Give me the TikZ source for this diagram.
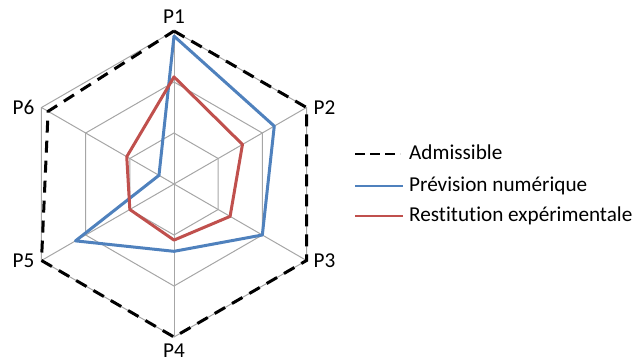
\documentclass[tikz,border=0pt]{standalone}
\usepackage{fontspec}
\setmainfont{Carlito}[Ligatures=NoCommon]
\usetikzlibrary{arrows.meta}

\definecolor{prevblue}{HTML}{4F81BD}
\definecolor{restred}{HTML}{C0504D}
\definecolor{gridgray}{HTML}{A6A6A6}

\begin{document}
\begin{tikzpicture}[x=1pt, y=1pt, every node/.style={font=\fontsize{21.2}{25}\selectfont, inner sep=7pt},
	gridline/.style={gridgray, line width=1pt},
	admis/.style={black, line width=3pt, dash pattern=on 12pt off 8pt},
	prev/.style={prevblue, line width=3pt, line join=round},
	rest/.style={restred, line width=3pt, line join=round},
	legend/.style={inner sep=0pt}]
	\useasboundingbox (0,0) rectangle (638,362);
	% Centre of the chart, step between two rings
	\coordinate (O) at (174,178);
	\def\st{51}
	
	\begin{scope}[shift={(O)}]
	% --- GRID ---
	\foreach \r in {1,2,3}
		\draw[gridline] (90:{\r*\st}) -- (30:{\r*\st}) -- (-30:{\r*\st}) -- (-90:{\r*\st}) -- (-150:{\r*\st}) -- (-210:{\r*\st}) -- cycle;
	\foreach \a [count=\i] in {90,30,-30,-90,-150,-210} {
		\draw[gridline] (0,0) -- (\a:{3*\st});
		\coordinate (V\i) at (\a:{3*\st});
	}
	
	% Axis labels
	\node[above] (p1) at (V1) {P1};
	\node[right] (p2) at (V2) {P2};
	\node[right] (p3) at (V3) {P3};
	\node[below] (p4) at (V4) {P4};
	\node[left] (p5) at (V5) {P5};
	\node[left] (p6) at (V6) {P6};
	
	% --- SERIES ---
	% Admissible
	\foreach \v [count=\i] in {3,3,3,3,3,2.85}
		\coordinate (a\i) at ({150-60*\i}:{\v*\st});
	\draw[admis] (a1) -- (a2) -- (a3) -- (a4) -- (a5) -- (a6) -- cycle;
	
	% Prevision numerique
	\foreach \v [count=\i] in {2.9,2.27,2.0,1.32,2.23,0.34}
		\coordinate (b\i) at ({150-60*\i}:{\v*\st});
	\draw[prev] (b1) -- (b2) -- (b3) -- (b4) -- (b5) -- (b6) -- cycle;
	
	% Restitution experimentale
	\foreach \v [count=\i] in {2.1,1.55,1.27,1.1,1.0,1.07}
		\coordinate (c\i) at ({150-60*\i}:{\v*\st});
	\draw[rest] (c1) -- (c2) -- (c3) -- (c4) -- (c5) -- (c6) -- cycle;
	\end{scope}
	
	% --- LEGEND ---
	\node[legend, anchor=base west] (lA) at (409,202) {Admissible};
	\node[legend, anchor=base west] (lP) at (409,170.3) {Prévision numérique};
	\node[legend, anchor=base west] (lR) at (409,140.3) {Restitution expérimentale};
	\draw[admis, line width=2.5pt, dash pattern=on 10pt off 5pt] ([shift={(-54,6)}]lA.base west) -- ([shift={(-9,6)}]lA.base west);
	\draw[prev, line width=2pt] ([shift={(-54,6)}]lP.base west) -- ([shift={(-6,6)}]lP.base west);
	\draw[rest, line width=2pt] ([shift={(-54,6)}]lR.base west) -- ([shift={(-6,6)}]lR.base west);
\end{tikzpicture}
\end{document}
